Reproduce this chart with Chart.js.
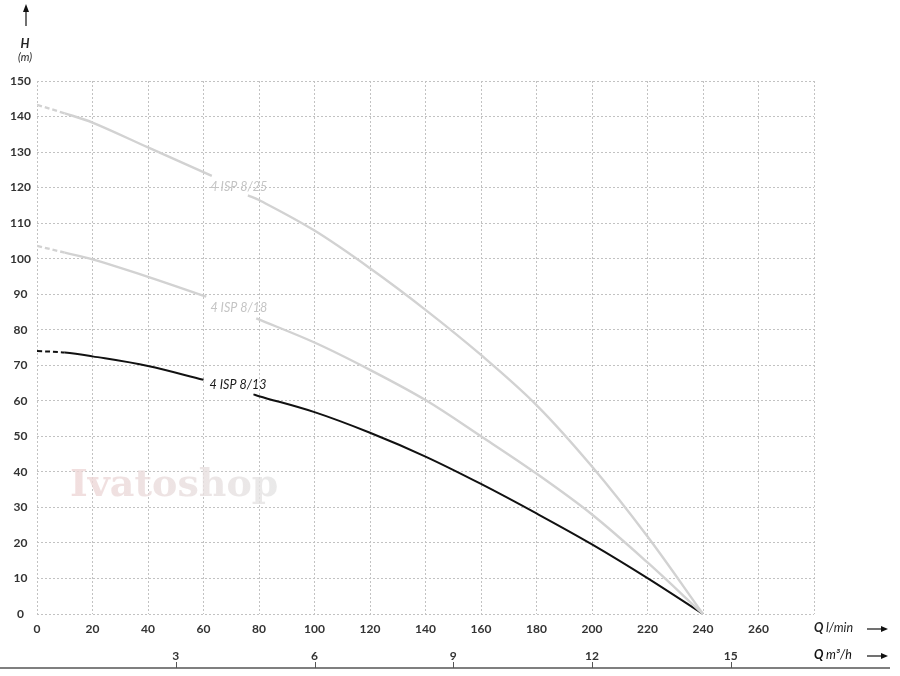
<!DOCTYPE html>
<html><head><meta charset="utf-8">
<script src="https://cdn.jsdelivr.net/npm/chart.js@4/dist/chart.umd.min.js"></script>
<style>html,body{margin:0;padding:0;background:#fff}#wrap{width:900px;height:676px;position:relative}</style>
</head><body><div id="wrap"><canvas id="c"></canvas></div>
<script>
// ---- data (Q in l/min, H in m) ----
const q_8_25 = [0, 10, 20, 40, 63, 70, 76, 80, 100, 120, 140, 160, 180, 200, 220, 240];
const h_8_25 = [143.3, 140.9, 138.3, 131.3, 123.3, null, 117.8, 116.5, 107.9, 97.3, 85.6, 72.9, 58.8, 41.5, 21.8, 0];
const q_8_18 = [0, 10, 20, 40, 61, 70, 79, 100, 120, 140, 160, 180, 200, 220, 240];
const h_8_18 = [103.6, 101.7, 99.8, 94.9, 89.3, null, 83.2, 76.4, 68.7, 60.2, 50.0, 39.5, 28.0, 14.5, 0];
const q_8_13 = [0, 10, 20, 40, 60, 70, 78, 80, 100, 120, 140, 160, 180, 200, 220, 240];
const h_8_13 = [74.0, 73.6, 72.5, 69.8, 65.9, null, 61.8, 61.3, 56.8, 51.0, 44.3, 36.6, 28.3, 19.6, 10.1, 0];
const seriesNames = ['4 ISP 8/25', '4 ISP 8/18', '4 ISP 8/13'];
const xTicks = [0, 20, 40, 60, 80, 100, 120, 140, 160, 180, 200, 220, 240, 260];
const yTicks = [0, 10, 20, 30, 40, 50, 60, 70, 80, 90, 100, 110, 120, 130, 140, 150];
const m3hTicks = [3, 6, 9, 12, 15];

const toPts = (qs, hs) => qs.map((q, i) => ({x: q, y: hs[i]}));
const labelPos = [{x: 62.5, y: 120.3}, {x: 62.5, y: 86.2}, {x: 62.2, y: 64.5}];
const labelColor = ['#c4c4c4', '#c4c4c4', '#1a1a1a'];
const lineColor = ['#d2d2d2', '#d2d2d2', '#111111'];
const dashStart = ctx => (ctx.p1.parsed.x <= 10 ? [5, 3] : undefined);

function mkDs(i, pts) {
  return {
    label: seriesNames[i], data: pts, borderColor: lineColor[i],
    borderWidth: i === 2 ? 2 : 2.4, pointRadius: 0, tension: 0.35,
    spanGaps: false, fill: false, segment: {borderDash: dashStart}
  };
}

const tickFont = {family: 'Lato', weight: 'bold', size: 12};

const deco = {
  id: 'deco',
  beforeDatasetsDraw(chart) {
    const c = chart.ctx;
    c.save();
    c.font = 'bold 38px "DejaVu Serif"';
    const g = c.createLinearGradient(70, 0, 278, 0);
    g.addColorStop(0, 'rgba(238,214,214,0.8)');
    g.addColorStop(1, 'rgba(228,228,228,0.8)');
    c.fillStyle = g;
    c.textBaseline = 'alphabetic';
    c.fillText('Ivatoshop', 70, 496);
    c.restore();
  },
  afterDraw(chart) {
    const c = chart.ctx;
    const xs = chart.scales.x, ys = chart.scales.y, x2 = chart.scales.x2;
    c.save();
    // curve labels
    c.font = 'italic 12.5px Lato';
    c.textBaseline = 'middle';
    c.textAlign = 'left';
    labelPos.forEach((p, i) => {
      c.fillStyle = labelColor[i];
      c.fillText(seriesNames[i], xs.getPixelForValue(p.x), ys.getPixelForValue(p.y));
    });
    const arrowH = (x0, x1, y) => {
      c.strokeStyle = '#111'; c.fillStyle = '#111'; c.lineWidth = 1.2;
      c.beginPath(); c.moveTo(x0, y); c.lineTo(x1 - 5, y); c.stroke();
      c.beginPath(); c.moveTo(x1, y); c.lineTo(x1 - 7, y - 3); c.lineTo(x1 - 7, y + 3); c.closePath(); c.fill();
    };
    // y axis arrow + title
    c.strokeStyle = '#111'; c.fillStyle = '#111'; c.lineWidth = 1.2;
    c.beginPath(); c.moveTo(26, 26); c.lineTo(26, 10); c.stroke();
    c.beginPath(); c.moveTo(26, 4); c.lineTo(23, 12); c.lineTo(29, 12); c.closePath(); c.fill();
    c.textAlign = 'center'; c.fillStyle = '#222';
    c.font = 'italic bold 12.5px Lato'; c.fillText('H', 25, 44);
    c.font = 'italic 11px Lato'; c.fillText('(m)', 25, 57);
    // Q l/min
    c.textAlign = 'left';
    c.font = 'italic bold 12.5px Lato'; c.fillText('Q', 814, 628);
    c.font = 'italic 12.5px Lato'; c.fillText('l/min', 826, 628);
    arrowH(867, 888, 629);
    c.font = 'italic bold 12.5px Lato'; c.fillText('Q', 814, 655);
    c.font = 'italic 12.5px Lato'; c.fillText('m\u00b3/h', 826, 655);
    arrowH(867, 888, 656);
    // secondary axis baseline and ticks
    c.strokeStyle = '#555'; c.lineWidth = 1.5;
    c.beginPath(); c.moveTo(0, 668); c.lineTo(890, 668); c.stroke();
    c.lineWidth = 1;
    m3hTicks.forEach(v => {
      const px = Math.round(x2.getPixelForValue(v)) + 0.5;
      c.beginPath(); c.moveTo(px, 662); c.lineTo(px, 668); c.stroke();
    });
    c.restore();
  }
};

new Chart(document.getElementById('c'), {
  type: 'line',
  data: {datasets: [mkDs(0, toPts(q_8_25, h_8_25)), mkDs(1, toPts(q_8_18, h_8_18)), mkDs(2, toPts(q_8_13, h_8_13))]},
  options: {
    responsive: true, maintainAspectRatio: false, animation: false,
    layout: {padding: {left: 0, right: 86, top: 81, bottom: 0}},
    plugins: {legend: {display: false}, tooltip: {enabled: false}},
    scales: {
      x: {
        type: 'linear', position: 'bottom', min: 0, max: 280,
        afterBuildTicks: s => { s.ticks = xTicks.concat([280]).map(v => ({value: v})); },
        afterFit: s => { s.height = 30; },
        grid: {color: '#c2c2c2', lineWidth: 1, drawTicks: false},
        border: {display: false, dash: [2, 2]},
        ticks: {padding: 8, color: '#333', font: tickFont, maxRotation: 0,
          callback: v => (v === 280 ? '' : String(v))}
      },
      x2: {
        type: 'linear', position: 'bottom', min: 0, max: 16.8,
        afterBuildTicks: s => { s.ticks = m3hTicks.map(v => ({value: v})); },
        afterFit: s => { s.height = 32; },
        grid: {display: false, drawTicks: false}, border: {display: false},
        ticks: {padding: 5, color: '#333', font: tickFont, maxRotation: 0}
      },
      y: {
        type: 'linear', min: 0, max: 150,
        afterBuildTicks: s => { s.ticks = yTicks.map(v => ({value: v})); },
        afterFit: s => { s.width = 37; },
        grid: {color: '#c2c2c2', lineWidth: 1, drawTicks: false},
        border: {display: false, dash: [2, 2]},
        ticks: {padding: 6, crossAlign: 'center', color: '#333', font: tickFont}
      }
    }
  },
  plugins: [deco]
});
</script></body></html>
